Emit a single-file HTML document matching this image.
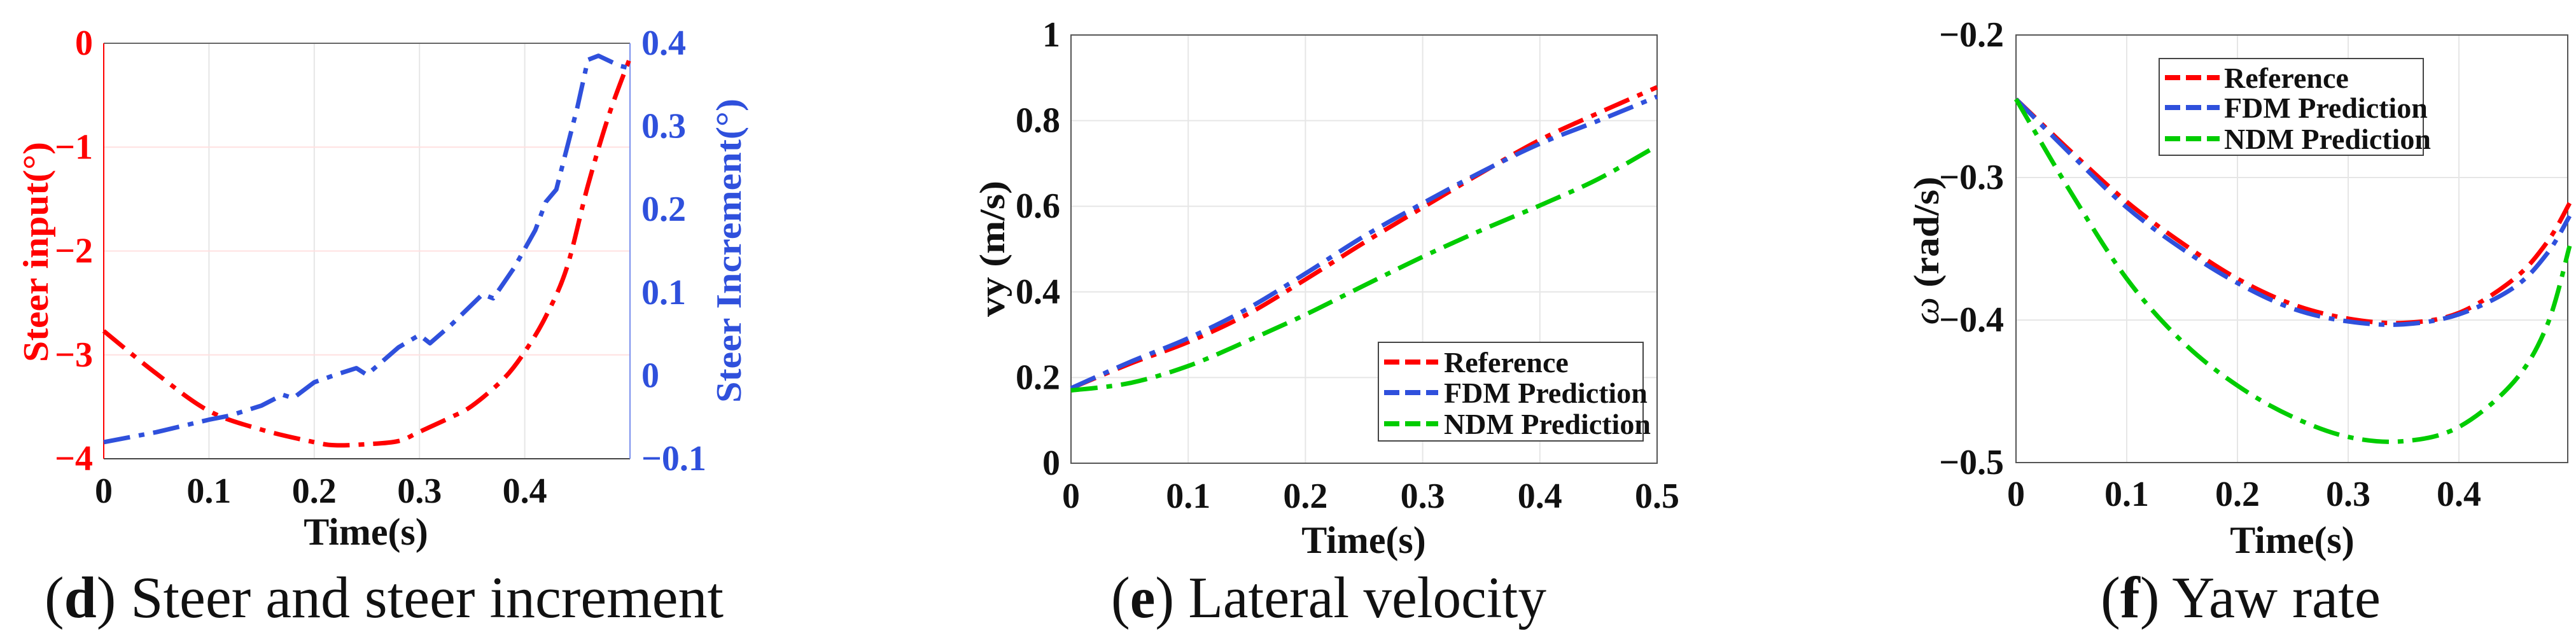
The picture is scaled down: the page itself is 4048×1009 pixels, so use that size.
<!DOCTYPE html>
<html><head><meta charset="utf-8"><style>
html,body{margin:0;padding:0;background:#fff;}
svg{display:block;font-family:"Liberation Serif",serif;}
</style></head><body>
<svg id="fig" width="4048" height="1009" viewBox="0 0 4048 1009" xmlns="http://www.w3.org/2000/svg"></svg>
<script>
// ---------- data ----------
const xTicksD = [0,0.1,0.2,0.3,0.4];
const yTicksDLeft = [0,-1,-2,-3,-4];
const yTicksDRight = [0.4,0.3,0.2,0.1,0,-0.1];
const steerT = [0,0.05,0.1,0.15,0.2,0.22,0.25,0.28,0.3,0.33,0.35,0.38,0.4,0.42,0.44,0.46,0.48,0.5];
const steerV = [-2.77,-3.18,-3.54,-3.72,-3.84,-3.87,-3.86,-3.83,-3.74,-3.6,-3.49,-3.23,-2.97,-2.63,-2.16,-1.37,-0.69,-0.14];
const incT = [0,0.05,0.1,0.12,0.15,0.17,0.18,0.2,0.22,0.24,0.25,0.28,0.3,0.31,0.33,0.36,0.37,0.39,0.41,0.42,0.43,0.45,0.46,0.47,0.49,0.5];
const incV = [-0.08,-0.068,-0.053,-0.048,-0.036,-0.023,-0.027,-0.008,0.001,0.009,0.001,0.034,0.049,0.039,0.061,0.098,0.093,0.13,0.175,0.209,0.224,0.323,0.38,0.385,0.373,0.37];

const xTicksE = [0,0.1,0.2,0.3,0.4,0.5];
const yTicksE = [0,0.2,0.4,0.6,0.8,1];
const tE = [0,0.05,0.1,0.15,0.2,0.25,0.3,0.35,0.4,0.45,0.5];
const vyRef = [0.175,0.232,0.283,0.347,0.429,0.515,0.597,0.678,0.755,0.818,0.878];
const vyFDM = [0.175,0.236,0.292,0.36,0.443,0.53,0.607,0.68,0.746,0.8,0.856];
const vyNDM = [0.17,0.187,0.227,0.285,0.347,0.415,0.482,0.544,0.602,0.664,0.741];

const xTicksF = [0,0.1,0.2,0.3,0.4];
const yTicksF = [-0.2,-0.3,-0.4,-0.5];
const tF = [0,0.05,0.1,0.15,0.2,0.25,0.3,0.35,0.4,0.45,0.48,0.5];
const wRef = [-0.245,-0.282,-0.317,-0.346,-0.371,-0.389,-0.399,-0.402,-0.395,-0.371,-0.345,-0.318];
const wFDM = [-0.245,-0.284,-0.321,-0.35,-0.374,-0.392,-0.401,-0.403,-0.396,-0.377,-0.353,-0.327];
const wNDM = [-0.245,-0.311,-0.371,-0.415,-0.446,-0.468,-0.482,-0.485,-0.475,-0.443,-0.403,-0.348];
const legendLabels = ["Reference","FDM Prediction","NDM Prediction"];

// ---------- helpers ----------
const NS="http://www.w3.org/2000/svg";
const svg=document.getElementById('fig');
function mk(tag,attrs,parent){const e=document.createElementNS(NS,tag);for(const k in attrs)e.setAttribute(k,attrs[k]);(parent||svg).appendChild(e);return e;}
function txt(s,attrs,parent){const e=mk('text',attrs,parent);e.textContent=s;return e;}
const RED="#ff0000",BLUE="#2f50dc",GREEN="#00cc00";
const DASH="42 14 9 14";
function fmt(v){return (v<0?"\u2212":"")+String(Math.abs(v));}
function scale(d0,d1,p0,p1){return v=>p0+(v-d0)/(d1-d0)*(p1-p0);}
function line(xs,ys,sx,sy,color,name,smooth){
  const P=xs.map((x,i)=>[sx(x),sy(ys[i])]);
  let d="M"+P[0][0].toFixed(1)+","+P[0][1].toFixed(1);
  for(let i=0;i<P.length-1;i++){
    if(smooth){
      const p0=P[Math.max(0,i-1)],p1=P[i],p2=P[i+1],p3=P[Math.min(P.length-1,i+2)];
      const c1=[p1[0]+(p2[0]-p0[0])/6,p1[1]+(p2[1]-p0[1])/6];
      const c2=[p2[0]-(p3[0]-p1[0])/6,p2[1]-(p3[1]-p1[1])/6];
      d+=" C"+c1[0].toFixed(1)+","+c1[1].toFixed(1)+" "+c2[0].toFixed(1)+","+c2[1].toFixed(1)+" "+p2[0].toFixed(1)+","+p2[1].toFixed(1);
    } else d+=" L"+P[i+1][0].toFixed(1)+","+P[i+1][1].toFixed(1);
  }
  const p=mk('path',{d:d,fill:"none",stroke:color,"stroke-width":7,"stroke-dasharray":DASH,"stroke-linejoin":"round"});
  
  
}
function frame(L,R,T,B,name){
  const r=mk('rect',{x:L,y:T,width:R-L,height:B-T,fill:"none",stroke:"#555","stroke-width":2});
  
  
}
function legend(x,y,w,h,rows,textX,lineX0,lineX1,ys){
  const g=mk('g',{});
  
  
  mk('rect',{x:x,y:y,width:w,height:h,fill:"#fff",stroke:"#444","stroke-width":2},g);
  const cols=[RED,BLUE,GREEN];
  legendLabels.forEach((lab,i)=>{
    const l=mk('line',{x1:lineX0,x2:lineX1,y1:ys[i],y2:ys[i],stroke:cols[i],"stroke-width":8,"stroke-dasharray":"24 9"},g);
    
    
    const t=txt(lab,{x:textX,y:ys[i]+16,"font-size":46,"font-weight":"bold",fill:"#111"},g);
    
    
  });
}

// ---------- panel d ----------
(function(){
  const L=163,R=990,T=68,B=721;
  const sx=scale(0,0.5,L,R), syL=scale(-4,0,B,T), syR=scale(-0.1,0.4,B,T);
  xTicksD.forEach(v=>{ if(v>0) mk('line',{x1:sx(v),x2:sx(v),y1:T,y2:B,stroke:"#e6e6e6","stroke-width":2});});
  yTicksDLeft.forEach(v=>{ if(v>-4&&v<0) mk('line',{x1:L,x2:R,y1:syL(v),y2:syL(v),stroke:"#ffe0e0","stroke-width":2});});
  mk('line',{x1:L,x2:R,y1:T,y2:T,stroke:"#666","stroke-width":2});
  mk('line',{x1:L,x2:R,y1:B,y2:B,stroke:"#444","stroke-width":2});
  mk('line',{x1:L,x2:L,y1:T,y2:B,stroke:RED,"stroke-width":2});
  mk('line',{x1:R,x2:R,y1:T,y2:B,stroke:"#7a90ee","stroke-width":2});
  line(steerT,steerV,sx,syL,RED,'steer-input-line',true);
  line(incT,incV,sx,syR,BLUE,'steer-increment-line',false);
  yTicksDLeft.forEach(v=>{const t=txt(fmt(v),{x:146,y:syL(v)+18,"font-size":56,"font-weight":"bold","text-anchor":"end",fill:RED});});
  yTicksDRight.forEach(v=>{const t=txt(fmt(v),{x:1008,y:syR(v)+18,"font-size":56,"font-weight":"bold",fill:BLUE});});
  xTicksD.forEach(v=>{const t=txt(String(v),{x:sx(v),y:790,"font-size":56,"font-weight":"bold","text-anchor":"middle",fill:"#111"});});
  let t=txt("Time(s)",{x:575,y:856,"font-size":60,"font-weight":"bold","text-anchor":"middle",fill:"#111"});
  t=txt("Steer input(°)",{x:0,y:0,"font-size":56,"font-weight":"bold","text-anchor":"middle",fill:RED,transform:"translate(75,396) rotate(-90)",textLength:346,lengthAdjust:"spacingAndGlyphs"});
  t=txt("Steer Increment(°)",{x:0,y:0,"font-size":56,"font-weight":"bold","text-anchor":"middle",fill:BLUE,transform:"translate(1164,394) rotate(-90)",textLength:478,lengthAdjust:"spacingAndGlyphs"});
  t=mk('text',{x:70,y:970,"font-size":92,fill:"#111",textLength:1067,lengthAdjust:"spacingAndGlyphs"});
  t.innerHTML='(<tspan font-weight="bold">d</tspan>) Steer and steer increment';
  
})();

// ---------- panel e ----------
(function(){
  const L=1683,R=2604,T=55,B=728;
  const sx=scale(0,0.5,L,R), sy=scale(0,1,B,T);
  xTicksE.forEach(v=>{ if(v>0&&v<0.5) mk('line',{x1:sx(v),x2:sx(v),y1:T,y2:B,stroke:"#e6e6e6","stroke-width":2});});
  yTicksE.forEach(v=>{ if(v>0&&v<1) mk('line',{x1:L,x2:R,y1:sy(v),y2:sy(v),stroke:"#e6e6e6","stroke-width":2});});
  frame(L,R,T,B,'plot-frame-e');
  line(tE,vyRef,sx,sy,RED,'reference-line',true);
  line(tE,vyFDM,sx,sy,BLUE,'fdm-line',true);
  line(tE,vyNDM,sx,sy,GREEN,'ndm-line',true);
  yTicksE.forEach(v=>{const t=txt(String(v),{x:1666,y:sy(v)+18,"font-size":56,"font-weight":"bold","text-anchor":"end",fill:"#111"});});
  xTicksE.forEach(v=>{const t=txt(String(v),{x:sx(v),y:798,"font-size":56,"font-weight":"bold","text-anchor":"middle",fill:"#111"});});
  let t=txt("Time(s)",{x:2143,y:869,"font-size":60,"font-weight":"bold","text-anchor":"middle",fill:"#111"});
  t=txt("vy (m/s)",{x:0,y:0,"font-size":56,"font-weight":"bold","text-anchor":"middle",fill:"#111",transform:"translate(1578,391) rotate(-90)",textLength:214,lengthAdjust:"spacingAndGlyphs"});
  legend(2166,538,416,155,3,2269,2175,2260,[569,617,666]);
  t=mk('text',{x:1746,y:970,"font-size":92,fill:"#111",textLength:684,lengthAdjust:"spacingAndGlyphs"});
  t.innerHTML='(<tspan font-weight="bold">e</tspan>) Lateral velocity';
  
})();

// ---------- panel f ----------
(function(){
  const L=3168,R=4035,T=55,B=727;
  const sx=scale(0,0.5,L,R+3), sy=scale(-0.5,-0.2,B,T);
  xTicksF.forEach(v=>{ if(v>0) mk('line',{x1:sx(v),x2:sx(v),y1:T,y2:B,stroke:"#e6e6e6","stroke-width":2});});
  yTicksF.forEach(v=>{ if(v>-0.5&&v<-0.2) mk('line',{x1:L,x2:R,y1:sy(v),y2:sy(v),stroke:"#e6e6e6","stroke-width":2});});
  frame(L,R,T,B,'plot-frame-f');
  line(tF,wRef,sx,sy,RED,'reference-line',true);
  line(tF,wFDM,sx,sy,BLUE,'fdm-line',true);
  line(tF,wNDM,sx,sy,GREEN,'ndm-line',true);
  yTicksF.forEach(v=>{const t=txt(fmt(v),{x:3149,y:sy(v)+18,"font-size":56,"font-weight":"bold","text-anchor":"end",fill:"#111"});});
  xTicksF.forEach(v=>{const t=txt(String(v),{x:sx(v),y:795,"font-size":56,"font-weight":"bold","text-anchor":"middle",fill:"#111"});});
  let t=txt("Time(s)",{x:3602,y:869,"font-size":60,"font-weight":"bold","text-anchor":"middle",fill:"#111"});
  t=mk('text',{x:0,y:0,"font-size":56,"font-weight":"bold","text-anchor":"middle",fill:"#111",transform:"translate(3046,394) rotate(-90)",textLength:233,lengthAdjust:"spacingAndGlyphs"});
  t.innerHTML='<tspan font-style="italic" font-weight="normal">ω</tspan> (rad/s)';
  
  legend(3393,92,415,152,3,3495,3402,3488,[122,169,218]);
  t=mk('text',{x:3301,y:970,"font-size":92,fill:"#111",textLength:440,lengthAdjust:"spacingAndGlyphs"});
  t.innerHTML='(<tspan font-weight="bold">f</tspan>) Yaw rate';
  
})();
</script>
</body></html>
